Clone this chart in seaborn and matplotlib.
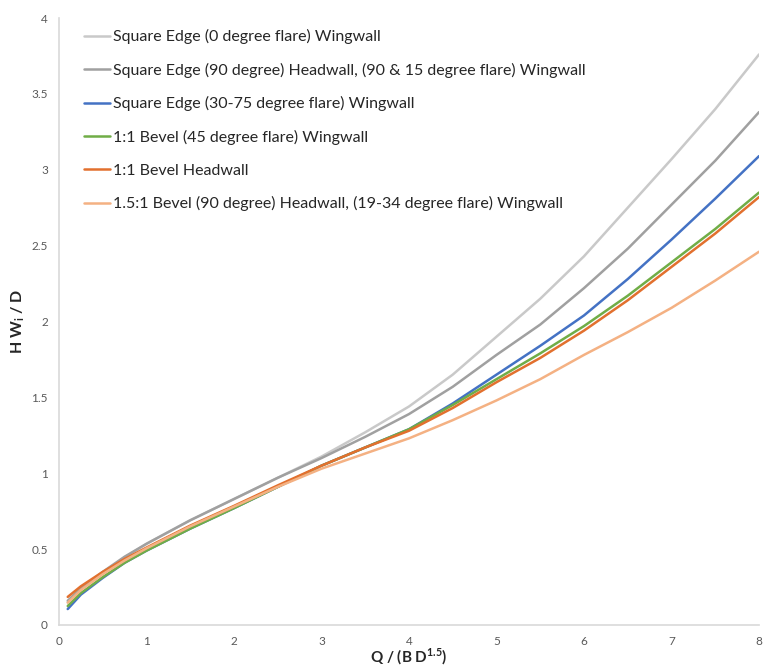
import numpy as np
import pandas as pd
import matplotlib
matplotlib.use("Agg")
import matplotlib.pyplot as plt
import seaborn as sns

# ---- data ----
x_vals = [0.1, 0.25, 0.5, 0.75, 1, 1.5, 2, 2.5, 3, 3.5, 4, 4.5, 5, 5.5, 6, 6.5, 7, 7.5, 8]

se_0_wingwall = [0.15, 0.235, 0.345, 0.445, 0.535, 0.69, 0.83, 0.97, 1.11, 1.27, 1.44, 1.65, 1.90, 2.15, 2.43, 2.75, 3.07, 3.40, 3.76]
se_90_headwall = [0.16, 0.24, 0.35, 0.45, 0.535, 0.69, 0.83, 0.97, 1.10, 1.24, 1.39, 1.57, 1.78, 1.98, 2.22, 2.48, 2.77, 3.06, 3.38]
se_30_75_wingwall = [0.105, 0.20, 0.31, 0.41, 0.49, 0.635, 0.77, 0.91, 1.05, 1.17, 1.29, 1.46, 1.65, 1.84, 2.04, 2.28, 2.54, 2.81, 3.09]
bevel_45_wingwall = [0.125, 0.21, 0.315, 0.41, 0.49, 0.635, 0.77, 0.91, 1.05, 1.17, 1.29, 1.45, 1.62, 1.79, 1.97, 2.17, 2.39, 2.61, 2.85]
bevel_headwall = [0.185, 0.255, 0.35, 0.435, 0.51, 0.655, 0.785, 0.92, 1.05, 1.17, 1.28, 1.43, 1.60, 1.76, 1.94, 2.14, 2.36, 2.58, 2.82]
bevel15_headwall = [0.147, 0.23, 0.335, 0.425, 0.505, 0.65, 0.78, 0.91, 1.03, 1.13, 1.23, 1.35, 1.48, 1.62, 1.78, 1.93, 2.09, 2.27, 2.46]

series_names = [
    "Square Edge (0 degree flare) Wingwall",
    "Square Edge (90 degree) Headwall, (90 & 15 degree flare) Wingwall",
    "Square Edge (30-75 degree flare) Wingwall",
    "1:1 Bevel (45 degree flare) Wingwall",
    "1:1 Bevel Headwall",
    "1.5:1 Bevel (90 degree) Headwall, (19-34 degree flare) Wingwall",
]
series_values = [se_0_wingwall, se_90_headwall, se_30_75_wingwall,
                 bevel_45_wingwall, bevel_headwall, bevel15_headwall]
series_colors = ["#C9C9C9", "#A0A0A0", "#4472C4", "#70AD47", "#E2702E", "#F4B183"]

x_ticks = [0, 1, 2, 3, 4, 5, 6, 7, 8]
x_tick_labels = ["0", "1", "2", "3", "4", "5", "6", "7", "8"]
y_ticks = [0, 0.5, 1, 1.5, 2, 2.5, 3, 3.5, 4]
y_tick_labels = ["0", "0.5", "1", "1.5", "2", "2.5", "3", "3.5", "4"]

x_label = r"Q / (B D$^\mathbf{1.5}$)"
y_label = r"H W$_\mathbf{i}$ / D"

# ---- build long-form table ----
frames = []
for name, vals in zip(series_names, series_values):
    frames.append(pd.DataFrame({"x": x_vals, "y": vals, "series": name}))
df = pd.concat(frames, ignore_index=True)

sns.set_theme(style="white")
plt.rcParams["font.family"] = ["Lato", "DejaVu Sans"]
plt.rcParams["mathtext.fontset"] = "custom"
plt.rcParams["mathtext.bf"] = "Lato:bold"
plt.rcParams["mathtext.rm"] = "Lato"

fig = plt.figure(figsize=(7.63, 6.68), dpi=100)
ax = fig.add_axes([0.0773, 0.0644, 0.9175, 0.9086])

sns.lineplot(data=df, x="x", y="y", hue="series", hue_order=series_names,
             palette=dict(zip(series_names, series_colors)), sort=False,
             linewidth=1.8, ax=ax, legend=True)

ax.set_xlim(0, 8)
ax.set_ylim(0, 4)
ax.set_xticks(x_ticks)
ax.set_xticklabels(x_tick_labels)
ax.set_yticks(y_ticks)
ax.set_yticklabels(y_tick_labels)
ax.tick_params(axis="both", length=0, labelsize=8.5, labelcolor="#595959", pad=8)

for side in ["top", "right"]:
    ax.spines[side].set_visible(False)
for side in ["left", "bottom"]:
    ax.spines[side].set_color("#D9D9D9")
    ax.spines[side].set_linewidth(1.2)

ax.set_xlabel(x_label, fontsize=11, fontweight="bold", color="#262626")
ax.set_ylabel(y_label, fontsize=11.5, fontweight="bold", color="#262626")
ax.xaxis.set_label_coords(0.5, -0.036)
ax.yaxis.set_label_coords(-0.058, 0.5)
ax.yaxis.label.set_va("center")

handles, labels = ax.get_legend_handles_labels()
leg = ax.legend(handles, labels, loc="upper left", bbox_to_anchor=(0.02, 1.0),
                frameon=False, fontsize=11.5, handlelength=1.6, handletextpad=0.2,
                labelspacing=1.16, borderaxespad=0.3)
for t in leg.get_texts():
    t.set_color("#262626")

fig.savefig("out.png", dpi=100)
